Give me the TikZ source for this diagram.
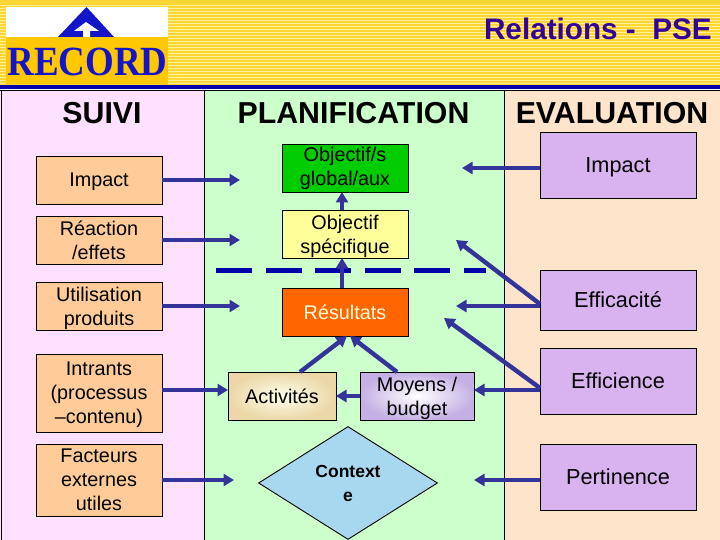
\documentclass[tikz,border=0pt]{standalone}
\usepackage{fontspec}
\setmainfont{Liberation Sans}
\newfontfamily\logofont{Liberation Serif}
\usepackage{tikz}
\usetikzlibrary{arrows.meta,positioning,shapes.geometric}

\definecolor{arrowblue}{HTML}{333399}
\definecolor{ruleblue}{HTML}{0000AA}
\definecolor{logoblue}{HTML}{1414C8}
\definecolor{titleblue}{HTML}{330099}
\definecolor{stripegold}{HTML}{FFD633}
\definecolor{stripepale}{HTML}{FFF09A}
\definecolor{logogold}{HTML}{FFC800}
\definecolor{suivifill}{HTML}{FFE1FF}
\definecolor{planfill}{HTML}{CCFFCC}
\definecolor{evalfill}{HTML}{FFE4CC}
\definecolor{suivibox}{HTML}{FFCC99}
\definecolor{evalbox}{HTML}{D9B3F0}
\definecolor{globalfill}{HTML}{00CC00}
\definecolor{specfill}{HTML}{FFFF99}
\definecolor{resultfill}{HTML}{FF6600}
\definecolor{activfill}{HTML}{EBD7A8}
\definecolor{moyenfill}{HTML}{C4B0E4}
\definecolor{contextfill}{HTML}{A8D8F0}

\begin{document}
\begin{tikzpicture}[
    x=1pt, y=-1pt,
    box/.style={draw=black, line width=0.9pt, align=center, inner sep=0pt, outer sep=0pt,
      font=\fontsize{19.8}{24}\selectfont},
    suivi/.style={box, fill=suivibox, minimum width=126pt, minimum height=48pt},
    plan/.style={box, minimum width=126pt, minimum height=48pt},
    evalu/.style={box, fill=evalbox, minimum width=156pt, font=\fontsize{21.7}{24}\selectfont},
    heading/.style={font=\bfseries\fontsize{30.3}{32}\selectfont, inner sep=0pt},
    arrow/.style={-{Triangle[length=10.5pt,width=12pt]}, line width=4.4pt, draw=arrowblue}
  ]
    \useasboundingbox (0,0) rectangle (720,540);
    % top band
    \fill[stripegold] (0,0) rectangle (720,85);
    \foreach \ypos in {6,9,...,84}
      \draw[stripepale, line width=1pt] (0,\ypos) -- (720,\ypos);
    \fill[ruleblue] (0,85) rectangle (720,89);
    % columns
    \fill[suivifill] (0,90) rectangle (204,540);
    \fill[planfill] (204,90) rectangle (504,540);
    \fill[evalfill] (504,90) rectangle (720,540);
    \draw[black, line width=0.9pt] (1,90) -- (1,540) (204,90) -- (204,540) (504,90) -- (504,540) (0,90) -- (720,90);
    % logo
    \fill[white] (6,7) rectangle (168,37);
    \fill[logogold] (6,37) rectangle (168,84);
    \fill[logoblue] (86.5,7) -- (114,37) -- (58,37) -- cycle;
    \fill[white] (86,22) -- (99,31) -- (90,31) -- (90,37) -- (83,37) -- (83,31) -- (74,31) -- cycle;
    \node[inner sep=0pt, text=logoblue, font=\logofont\bfseries\fontsize{41.5}{41.5}\selectfont, xscale=0.89, transform shape]
      (logo) at (87.5,61.5) {RECORD};
    \node[anchor=east, inner sep=0pt, text=titleblue, font=\bfseries\fontsize{29.7}{32}\selectfont]
      (title) at (712,29) {Relations -\ \ PSE};
    % headings
    \node[heading] (suiviT) at (102,113) {SUIVI};
    \node[heading] (planT) at (353.5,113) {PLANIFICATION};
    \node[heading] (evalT) at (612,113) {EVALUATION};
    % left column
    \node[suivi, text depth=0pt] (impactS) at (99,180) {Impact};
    \node[suivi, below=12pt of impactS] (reaction) {Réaction\\/effets};
    \node[suivi, text depth=0pt, below=18pt of reaction] (utilisation) {Utilisation\\produits};
    \node[suivi, text depth=0pt, below=24pt of utilisation, minimum height=78pt] (intrants) {Intrants\\(processus\\–contenu)};
    \node[suivi, below=12pt of intrants, minimum height=72pt] (facteurs) {Facteurs\\externes\\utiles};
    % middle column
    \node[plan, fill=globalfill] (objectifG) at (345,168) {Objectif/s\\global/aux};
    \node[plan, fill=specfill, text depth=0pt, below=18pt of objectifG] (objectifS) {Objectif\\spécifique};
    \node[plan, fill=resultfill, text=yellow!15, below=30pt of objectifS] (resultats) {Résultats};
    \node[box, minimum width=108pt, minimum height=48pt, inner color=yellow!8, outer color=activfill] (activites) at (282,396) {Activités};
    \node[box, text depth=0pt, minimum width=114pt, minimum height=48pt, inner color=white, outer color=moyenfill] (moyens) at (417,396) {Moyens /\\budget};
    \node[diamond, draw=black, line width=0.9pt, fill=contextfill, aspect=1.58, minimum width=179pt, minimum height=113pt,
      inner sep=0pt, align=center, font=\bfseries\fontsize{17.5}{24}\selectfont] (contexte) at (348,483) {Context\\e};
    % right column
    \node[evalu, text depth=0pt, minimum height=66pt] (impactE) at (618,165) {Impact};
    \node[evalu, minimum height=60pt, below=72pt of impactE] (efficacite) {Efficacité};
    \node[evalu, minimum height=66pt, below=18pt of efficacite] (efficience) {Efficience};
    \node[evalu, minimum height=66pt, below=30pt of efficience] (pertinence) {Pertinence};
    % free arrow ends
    \coordinate (toImpact) at (240,180);
    \coordinate (toReaction) at (240,240);
    \coordinate (toUtil) at (240,306);
    \coordinate (toFact) at (234,480);
    \coordinate (fromImpact) at (462,168);
    \coordinate (fromEffic) at (456,306);
    \coordinate (diagEffic) at (456,240);
    \coordinate (fromEffience) at (474,390);
    \coordinate (diagEffience) at (444,318);
    \coordinate (fromPert) at (474,480);
    \coordinate (dashA) at (216,270);
    \coordinate (dashB) at (486,270);
    % dashed limit
    \draw[ruleblue, line width=5pt, dash pattern=on 36pt off 13.5pt] (dashA) -- (dashB);
    % arrows
    \draw[arrow] (impactS.east) -- (toImpact);
    \draw[arrow] (reaction.east) -- (toReaction);
    \draw[arrow] (utilisation.east) -- (toUtil);
    \draw[arrow] ([yshift=3pt]intrants.east) -- ([yshift=6pt]activites.west);
    \draw[arrow] (facteurs.east) -- (toFact);
    \draw[arrow] ([yshift=-3pt]impactE.west) -- (fromImpact);
    \draw[arrow] ([yshift=-6pt]efficacite.west) -- (fromEffic);
    \draw[arrow] ([yshift=-4pt]efficacite.west) -- (diagEffic);
    \draw[arrow] ([yshift=-9pt]efficience.west) -- (fromEffience);
    \draw[arrow] ([yshift=-7pt]efficience.west) -- (diagEffience);
    \draw[arrow] ([yshift=-3pt]pertinence.west) -- (fromPert);
    \draw[arrow] ([xshift=-3pt]objectifS.north) -- ([xshift=-3pt]objectifG.south);
    \draw[arrow] ([xshift=-3pt]resultats.north) -- ([xshift=-3pt]objectifS.south);
    \draw[arrow] ([xshift=18pt]activites.north) -- ([xshift=2pt]resultats.south);
    \draw[arrow] ([xshift=-20pt]moyens.north) -- ([xshift=5pt]resultats.south);
    \draw[arrow] (moyens.west) -- (activites.east);
  \end{tikzpicture}
\end{document}
